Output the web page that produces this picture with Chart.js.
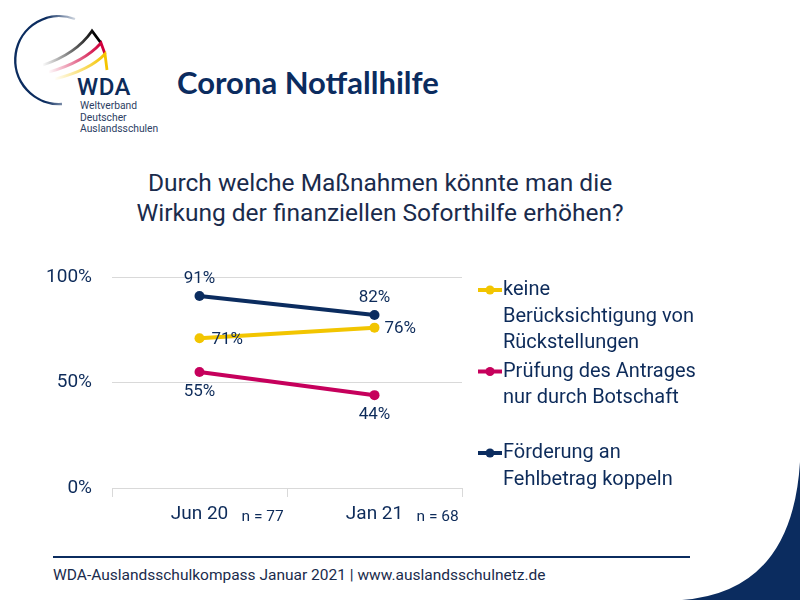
<!DOCTYPE html>
<html>
<head>
<meta charset="utf-8">
<script src="https://cdn.jsdelivr.net/npm/chart.js@4"></script>
<style>
  html, body { margin:0; padding:0; background:#fff; }
  #page { position:relative; width:800px; height:600px; overflow:hidden; background:#fff; }
  #deco { position:absolute; left:0; top:0; }
  #c { position:absolute; left:0; top:0; }
  .t { position:absolute; white-space:nowrap; color:#0d2b5a; }
</style>
</head>
<body>
<div id="page">
  <svg id="deco" width="800" height="600" viewBox="0 0 800 600">
    <defs>
      <linearGradient id="arcG" gradientUnits="userSpaceOnUse" x1="18" y1="0" x2="80" y2="0">
        <stop offset="0" stop-color="#0b2c5f" stop-opacity="1"/>
        <stop offset="0.45" stop-color="#0b2c5f" stop-opacity="1"/>
        <stop offset="1" stop-color="#0b2c5f" stop-opacity="0.05"/>
      </linearGradient>
      <linearGradient id="blkG" gradientUnits="userSpaceOnUse" x1="42" y1="0" x2="95" y2="0">
        <stop offset="0" stop-color="#000" stop-opacity="0"/>
        <stop offset="1" stop-color="#000" stop-opacity="1"/>
      </linearGradient>
      <linearGradient id="redG" gradientUnits="userSpaceOnUse" x1="48" y1="0" x2="100" y2="0">
        <stop offset="0" stop-color="#d0003c" stop-opacity="0"/>
        <stop offset="1" stop-color="#d0003c" stop-opacity="1"/>
      </linearGradient>
      <linearGradient id="goldG" gradientUnits="userSpaceOnUse" x1="54" y1="0" x2="104" y2="0">
        <stop offset="0" stop-color="#f5c400" stop-opacity="0"/>
        <stop offset="1" stop-color="#f5c400" stop-opacity="1"/>
      </linearGradient>
    </defs>
    <path d="M75,19 A44,44 0 1 0 62,104" fill="none" stroke="url(#arcG)" stroke-width="2.4"/>
    <path d="M43,65 Q76,54 92,31 L101,43" fill="none" stroke="url(#blkG)" stroke-width="2.8"/>
    <path d="M49,72 Q84,62 101,43 L105,54" fill="none" stroke="url(#redG)" stroke-width="2.8"/>
    <path d="M55,79 Q90,70 105,54 L107,70" fill="none" stroke="url(#goldG)" stroke-width="2.8"/>
    <line x1="53" y1="557" x2="690" y2="557" stroke="#0b2c5f" stroke-width="2"/>
    <path d="M800,462 Q792,592 682,600 L800,600 Z" fill="#0b2c5f"/>
  </svg>
  <div class="t" style="left:77px;top:73px;font:500 24px Roboto, sans-serif;letter-spacing:0.5px;">WDA</div>
  <div class="t" style="left:80px;top:100px;font:10.3px Roboto, sans-serif;line-height:11.5px;color:#2c3e63;">Weltverband<br>Deutscher<br>Auslandsschulen</div>
  <div class="t" style="left:177px;top:63px;font:bold 31px Lato, sans-serif;color:#0b2c5f;">Corona Notfallhilfe</div>
  <div class="t" style="left:0;width:760px;top:168px;text-align:center;font:24.5px Roboto, sans-serif;line-height:30px;color:#1a2b4c;">Durch welche Maßnahmen könnte man die<br>Wirkung der finanziellen Soforthilfe erhöhen?</div>
  <div class="t" style="left:53px;top:566px;font:15.5px Roboto, sans-serif;color:#1a2b4c;">WDA-Auslandsschulkompass Januar 2021 | www.auslandsschulnetz.de</div>
  <canvas id="c" width="800" height="600"></canvas>
</div>
<script>
const categories = ['Jun 20', 'Jan 21'];
const sampleSizes = ['n = 77', 'n = 68'];
const seriesNames = [
  'keine\nBerücksichtigung von\nRückstellungen',
  'Prüfung des Antrages\nnur durch Botschaft',
  'Förderung an\nFehlbetrag koppeln'
];
const valuesKeine = [71, 76];
const valuesPruefung = [55, 44];
const valuesFoerderung = [91, 82];
const yTickValues = [0, 50, 100];

const YELLOW = '#f2c500';
const MAGENTA = '#c6005c';
const NAVY = '#0b2c5f';
const TEXT = '#0d2b5a';

const pointLabels = {
  id: 'pointLabels',
  afterDatasetsDraw(chart) {
    const ctx = chart.ctx;
    ctx.save();
    ctx.font = '17px Roboto, sans-serif';
    ctx.fillStyle = TEXT;
    chart.data.datasets.forEach((ds, i) => {
      const meta = chart.getDatasetMeta(i);
      meta.data.forEach((pt, j) => {
        const txt = ds.data[j] + '%';
        const place = ds.labelPlacement[j];
        ctx.textBaseline = 'middle';
        if (place === 'above') { ctx.textAlign = 'center'; ctx.fillText(txt, pt.x, pt.y - 17); }
        else if (place === 'below') { ctx.textAlign = 'center'; ctx.fillText(txt, pt.x, pt.y + 20); }
        else if (place === 'rightBelow') { ctx.textAlign = 'left'; ctx.fillText(txt, pt.x + 12, pt.y + 2); }
        else { ctx.textAlign = 'left'; ctx.fillText(txt, pt.x + 10, pt.y + 1); }
      });
    });
    ctx.restore();
  }
};

const sideLegend = {
  id: 'sideLegend',
  afterDraw(chart) {
    const ctx = chart.ctx;
    const x0 = 478, textX = 503, firstY = 290, itemH = 81.5, lineH = 26.5;
    ctx.save();
    chart.data.datasets.forEach((ds, i) => {
      const y = firstY + i * itemH;
      ctx.strokeStyle = ds.borderColor;
      ctx.lineWidth = 4;
      ctx.beginPath(); ctx.moveTo(x0, y); ctx.lineTo(x0 + 24, y); ctx.stroke();
      ctx.fillStyle = ds.borderColor;
      ctx.beginPath(); ctx.arc(x0 + 12, y, 4.5, 0, Math.PI * 2); ctx.fill();
      ctx.fillStyle = TEXT;
      ctx.font = '20px Roboto, sans-serif';
      ctx.textAlign = 'left';
      ctx.textBaseline = 'middle';
      ds.label.split('\n').forEach((line, k) => ctx.fillText(line, textX, y + k * lineH));
    });
    // sample sizes next to category labels
    const xs = chart.scales.x;
    ctx.font = '15.5px Roboto, sans-serif';
    ctx.fillStyle = TEXT;
    sampleSizes.forEach((s, j) => ctx.fillText(s, xs.getPixelForValue(j) + 42, 517));
    ctx.restore();
  }
};

const mk = (name, data, color, placement) => ({
  label: name, data, borderColor: color, backgroundColor: color,
  pointBackgroundColor: color, pointBorderWidth: 0, pointRadius: 5,
  borderWidth: 4, tension: 0, labelPlacement: placement
});

new Chart(document.getElementById('c'), {
  type: 'line',
  data: {
    labels: categories,
    datasets: [
      mk(seriesNames[0], valuesKeine, YELLOW, ['rightBelow', 'right']),
      mk(seriesNames[1], valuesPruefung, MAGENTA, ['below', 'below']),
      mk(seriesNames[2], valuesFoerderung, NAVY, ['above', 'above'])
    ]
  },
  options: {
    responsive: false,
    devicePixelRatio: 1,
    animation: false,
    layout: { padding: { left: 0, right: 338, top: 277, bottom: 72 } },
    plugins: { legend: { display: false }, tooltip: { enabled: false } },
    scales: {
      x: {
        offset: true,
        afterFit(s) { s.height = 40; },
        grid: { offset: true, drawOnChartArea: false, drawTicks: true, tickLength: 9, color: '#d9d9d9' },
        border: { display: true, color: '#d9d9d9' },
        ticks: { color: TEXT, font: { size: 19, family: 'Roboto, sans-serif' }, padding: 6 }
      },
      y: {
        min: 0, max: 100,
        afterFit(s) { s.width = 112; },
        afterBuildTicks(s) { s.ticks = yTickValues.map(v => ({ value: v })); },
        grid: { drawTicks: false, color: '#d9d9d9' },
        border: { display: false },
        ticks: { color: TEXT, font: { size: 19, family: 'Roboto, sans-serif' }, padding: 20, callback: v => v + '%' }
      }
    }
  },
  plugins: [pointLabels, sideLegend]
});
</script>
</body>
</html>
